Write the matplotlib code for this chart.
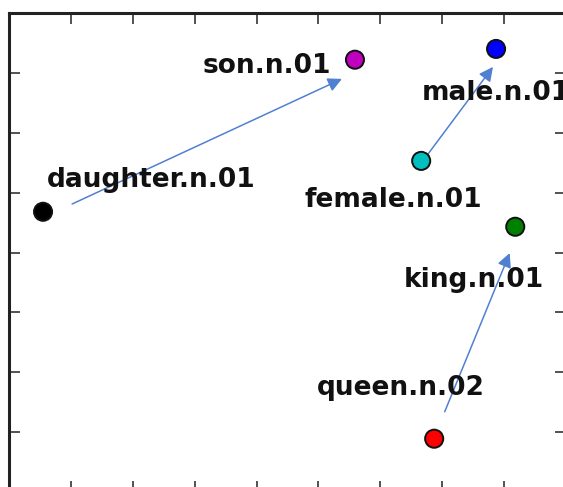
import matplotlib.pyplot as plt

# words and their 2-D positions
words = ['daughter.n.01', 'son.n.01', 'male.n.01', 'female.n.01', 'king.n.01', 'queen.n.02']
xs = [0.55, 5.59, 7.87, 6.66, 8.18, 6.87]
ys = [5.68, 8.22, 8.40, 6.53, 5.43, 1.89]
colors = ['black', 'm', 'b', 'c', 'g', 'r']

# label anchors (left, baseline)
label_x = [0.61, 3.13, 6.67, 4.78, 6.38, 4.97]
label_y = [6.09, 8.00, 7.55, 5.76, 4.42, 2.62]

# analogy arrows: tail -> head
arrow_tail_x = [1.02, 6.76, 7.04]
arrow_tail_y = [5.81, 6.63, 2.34]
arrow_head_x = [5.38, 7.82, 8.09]
arrow_head_y = [7.90, 8.10, 4.99]

fig = plt.figure(figsize=(5.63, 4.87), dpi=100)
ax = fig.add_axes([9 / 563, -5 / 487, 557 / 563, 479 / 487])

for tx, ty, hx, hy in zip(arrow_tail_x, arrow_tail_y, arrow_head_x, arrow_head_y):
    ax.annotate('', xy=(hx, hy), xytext=(tx, ty),
                arrowprops=dict(arrowstyle='-|>,head_length=0.6,head_width=0.3',
                                color='#5080D0', lw=1.1, mutation_scale=14,
                                shrinkA=0, shrinkB=0),
                zorder=2)

ax.scatter(xs, ys, s=170, c=colors, edgecolors='#111111', linewidths=1.4, zorder=3)

for w, lx, ly in zip(words, label_x, label_y):
    ax.text(lx, ly, w, fontsize=19, fontweight='bold', ha='left', va='baseline',
            color='#111111', zorder=4)

ax.set_xlim(0, 9)
ax.set_ylim(1, 9)
ax.set_xticks(range(1, 9))
ax.set_yticks(range(2, 9))
ax.tick_params(direction='in', length=8, width=1.3, color='#444444',
               top=True, right=True, labelbottom=False, labelleft=False)
for sp in ax.spines.values():
    sp.set_linewidth(2.2)
    sp.set_color('#222222')

fig.savefig('out.png', dpi=100)
